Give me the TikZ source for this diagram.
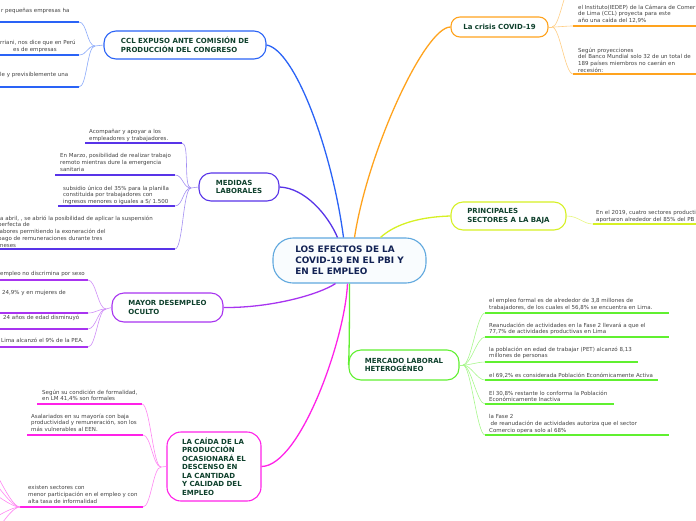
\documentclass[tikz,border=0pt]{standalone}
\usepackage{fontspec}
\setmainfont{DejaVu Sans}
\usepackage{xcolor}
\usetikzlibrary{positioning}

\definecolor{cclblue}{RGB}{42,99,246}
\definecolor{medindigo}{RGB}{88,52,232}
\definecolor{mayviolet}{RGB}{168,52,240}
\definecolor{caimagenta}{RGB}{255,34,232}
\definecolor{criorange}{RGB}{255,163,30}
\definecolor{prilime}{RGB}{214,240,36}
\definecolor{mergreen}{RGB}{96,240,48}
\definecolor{ctrblue}{RGB}{96,168,222}
\definecolor{topictext}{RGB}{14,64,44}
\definecolor{ctrtext}{RGB}{18,34,84}
\definecolor{leaftext}{RGB}{66,66,66}

\tikzset{
  topic/.style={
    shape = rectangle,
    draw,
    fill = white,
    line width = 1.1pt,
    rounded corners = 12pt,
    align = left,
    inner sep = 0pt,
    text = topictext,
    font = \fontsize{7}{8.5}\selectfont\bfseries
  },
}
\tikzset{
  leaf/.style={
    anchor = north west,
    inner sep = 0pt,
    yshift = -1.8pt,
    align = left,
    text = leaftext,
    font = \fontsize{5.5}{6.8}\selectfont,
    execute at begin node = \strut
  },
}
\tikzset{
  branch/.style={line width = 1.3pt},
  twig/.style={line width = 0.6pt},
  uline/.style={line width = 1.5pt}
}

\begin{document}
\begin{tikzpicture}[x=1pt,y=-1pt]
    \useasboundingbox (0,0) rectangle (696,520);
    \clip (0,0) rectangle (696,520);

    \node[topic, draw=ctrblue, fill=ctrblue!4, text=ctrtext, rounded corners=20pt,
          minimum width=153, minimum height=45,
          font=\fontsize{8.9}{11}\selectfont\bfseries] (ctr) at (349.5,260.5)
          {LOS EFECTOS DE LA\\COVID-19 EN EL PBI Y\\EN EL EMPLEO};

    \node[topic, draw=cclblue, minimum width=162, minimum height=28] (ccl) at (185,45)
          {CCL EXPUSO ANTE COMISIÓN DE\\PRODUCCIÓN DEL CONGRESO};
    \node[topic, draw=medindigo, minimum width=80, minimum height=28] (med) at (239,187)
          {MEDIDAS\\LABORALES};
    \node[topic, draw=mayviolet, minimum width=111, minimum height=29] (may) at (167.5,307.5)
          {MAYOR DESEMPLEO\\OCULTO};
    \node[topic, draw=caimagenta, rounded corners=14pt, minimum width=94, minimum height=69] (cai) at (214,466.5)
          {LA CAÍDA DE LA\\PRODUCCIÓN\\OCASIONARÁ EL\\DESCENSO EN\\LA CANTIDAD\\Y CALIDAD DEL\\EMPLEO};
    \node[topic, draw=criorange, rounded corners=9pt, minimum width=97, minimum height=20] (cri) at (499.5,27)
          {La crisis COVID-19};
    \node[topic, draw=prilime, minimum width=115, minimum height=28] (pri) at (508.5,216)
          {PRINCIPALES\\SECTORES A LA BAJA};
    \node[topic, draw=mergreen, minimum width=110, minimum height=30] (mer) at (404,365)
          {MERCADO LABORAL\\HETEROGÉNEO};

    % main branches
    \draw[branch, cclblue] (ccl.east) .. controls (295,50) and (332,150) .. ([xshift=-6]ctr.north);
    \draw[branch, criorange] (cri.west) .. controls (425,27) and (368,150) .. ([xshift=5]ctr.north);
    \draw[branch, medindigo] (med.east) .. controls (305,188) and (328,215) .. ([xshift=-12]ctr.north);
    \draw[branch, prilime] (pri.west) .. controls (415,217) and (393,226) .. ([xshift=31]ctr.north);
    \draw[branch, mayviolet] (may.east) .. controls (270,308) and (318,295) .. ([xshift=-14]ctr.south);
    \draw[branch, caimagenta] (cai.east) .. controls (300,466) and (345,340) .. ([xshift=-2]ctr.south);
    \draw[branch, mergreen] (ctr.south) .. controls (349.5,340) and (349,358) .. (mer.west);

    % CCL
    \coordinate (cclcv) at (95,46);
    \draw[uline, cclblue] (-5,22) -- (79,22) coordinate (cc1e);
    \draw[uline, cclblue] (-5,55) -- (79,55) coordinate (cc2e);
    \draw[uline, cclblue] (-5,87) -- (79,87) coordinate (cc3e);
    \node[leaf] (cc1) at (1,5.6) {r pequeñas empresas ha};
    \node[leaf] (cc2) at (0,37.6) {rriani, nos dice que en Perú};
    \node[leaf] (cc2b) at (13,44.4) {es de empresas};
    \node[leaf] (cc3) at (0,69.6) {le y previsiblemente una};
    \draw[twig, cclblue!55] (ccl.west) -- (cclcv);
    \draw[twig, cclblue!55] (cclcv) .. controls +(-8,0) and +(8,0) .. (cc1e);
    \draw[twig, cclblue!55] (cclcv) .. controls +(-8,0) and +(8,0) .. (cc2e);
    \draw[twig, cclblue!55] (cclcv) .. controls +(-8,0) and +(8,0) .. (cc3e);

    % MEDIDAS
    \coordinate (medcv) at (191,188);
    \draw[uline, medindigo] (85,143) -- (182,143) coordinate (md1e);
    \draw[uline, medindigo] (55,175) -- (175,175) coordinate (md2e);
    \draw[uline, medindigo] (58,206) -- (175,206) coordinate (md3e);
    \draw[uline, medindigo] (-5,249) -- (175,249) coordinate (md4e);
    \node[leaf] (md1) at (89,127.6) {Acompañar y apoyar a los\\empleadores y trabajadores.};
    \node[leaf] (md2) at (60,151.6) {En Marzo, posibilidad de realizar trabajo\\remoto mientras dure la emergencia\\sanitaria};
    \node[leaf] (md3) at (63,183.6) {subsidio único del 35\% para la planilla\\constituida por trabajadores con\\ingresos menores o iguales a S/ 1.500};
    \node[leaf] (md4) at (-2,213.6) {\kern2pt a abril, , se abrió la posibilidad de aplicar la suspensión\\perfecta de\\labores permitiendo la exoneración del\\pago de remuneraciones durante tres\\meses};
    \draw[twig, medindigo!55] (med.west) -- (medcv);
    \draw[twig, medindigo!55] (medcv) .. controls +(-8,0) and +(8,0) .. (md1e);
    \draw[twig, medindigo!55] (medcv) .. controls +(-8,0) and +(8,0) .. (md2e);
    \draw[twig, medindigo!55] (medcv) .. controls +(-8,0) and +(8,0) .. (md3e);
    \draw[twig, medindigo!55] (medcv) .. controls +(-8,0) and +(8,0) .. (md4e);

    % MAYOR DESEMPLEO
    \coordinate (maycv) at (106,309);
    \draw[uline, mayviolet] (-5,280) -- (88,280) coordinate (my1e);
    \draw[uline, mayviolet] (-5,313) -- (88,313) coordinate (my2e);
    \draw[uline, mayviolet] (-5,329) -- (88,329) coordinate (my3e);
    \draw[uline, mayviolet] (-5,347) -- (88,347) coordinate (my4e);
    \node[leaf] (my1) at (0,268.6) {empleo no discrimina por sexo};
    \node[leaf] (my2) at (2,287.6) {24,9\% y en mujeres de};
    \node[leaf] (my3) at (3,312.6) {24 años de edad disminuyó};
    \node[leaf] (my4) at (1,335.6) {Lima alcanzó el 9\% de la PEA.};
    \draw[twig, mayviolet!55] (may.west) -- (maycv);
    \draw[twig, mayviolet!55] (maycv) .. controls +(-8,0) and +(8,0) .. (my1e);
    \draw[twig, mayviolet!55] (maycv) .. controls +(-8,0) and +(8,0) .. (my2e);
    \draw[twig, mayviolet!55] (maycv) .. controls +(-8,0) and +(8,0) .. (my3e);
    \draw[twig, mayviolet!55] (maycv) .. controls +(-8,0) and +(8,0) .. (my4e);

    % LA CAIDA
    \coordinate (caicv) at (161,467);
    \draw[uline, caimagenta] (37,404) -- (142,404) coordinate (cd1e);
    \draw[uline, caimagenta] (27,435) -- (143,435) coordinate (cd2e);
    \draw[uline, caimagenta] (20,507) coordinate (cd3s) -- (143,507) coordinate (cd3e);
    \node[leaf] (cd1) at (42,387.6) {Según su condición de formalidad,\\en LM 41,4\% son formales};
    \node[leaf] (cd2) at (31,411.6) {Asalariados en su mayoría con baja\\productividad y remuneración, son los\\más vulnerables al EEN.};
    \node[leaf] (cd3) at (28,483.6) {existen sectores con\\menor participación en el empleo y con\\alta tasa de informalidad};
    \draw[twig, caimagenta!55] (cai.west) -- (caicv);
    \draw[twig, caimagenta!55] (caicv) .. controls +(-8,0) and +(8,0) .. (cd1e);
    \draw[twig, caimagenta!55] (caicv) .. controls +(-8,0) and +(8,0) .. (cd2e);
    \draw[twig, caimagenta!55] (caicv) .. controls +(-8,0) and +(8,0) .. (cd3e);
    \coordinate (cx1) at (-25,445);
    \coordinate (cx2) at (-25,465);
    \coordinate (cx3) at (-25,485);
    \coordinate (cx4) at (-25,525);
    \coordinate (cx5) at (-20,545);
    \draw[twig, caimagenta!55] (cd3s) .. controls +(-12,0) and +(12,0) .. (cx1);
    \draw[twig, caimagenta!55] (cd3s) .. controls +(-12,0) and +(12,0) .. (cx2);
    \draw[twig, caimagenta!55] (cd3s) .. controls +(-12,0) and +(12,0) .. (cx3);
    \draw[twig, caimagenta!55] (cd3s) .. controls +(-12,0) and +(12,0) .. (cx4);
    \draw[twig, caimagenta!55] (cd3s) .. controls +(-12,0) and +(12,0) .. (cx5);

    % LA CRISIS
    \coordinate (cricv) at (552,27);
    \coordinate (cr0e) at (572,-14);
    \draw[uline, criorange] (573,26) coordinate (cr1s) -- (700,26);
    \draw[uline, criorange] (573,74) coordinate (cr2s) -- (700,74);
    \node[leaf] (cr1) at (578,2.6) {el Instituto(IEDEP) de la Cámara de Comer\\de Lima (CCL) proyecta para este\\año una caída del 12,9\%};
    \node[leaf] (cr2) at (578,45.6) {Según proyecciones\\del Banco Mundial solo 32 de un total de\\189 países miembros no caerán en\\recesión:};
    \draw[twig, criorange!55] (cri.east) -- (cricv);
    \draw[twig, criorange!55] (cricv) .. controls +(8,0) and +(-8,0) .. (cr0e);
    \draw[twig, criorange!55] (cricv) .. controls +(8,0) and +(-8,0) .. (cr1s);
    \draw[twig, criorange!55] (cricv) .. controls +(8,0) and +(-8,0) .. (cr2s);

    % PRINCIPALES SECTORES
    \draw[uline, prilime] (593,224) coordinate (pr1s) -- (700,224);
    \node[leaf] (pr1) at (596,208.6) {En el 2019, cuatro sectores producti\\aportaron alrededor del 85\% del PB};
    \draw[twig, prilime!60] (pri.east) .. controls +(12,0) and +(-10,0) .. (pr1s);

    % MERCADO LABORAL
    \coordinate (mercv) at (463,365);
    \draw[uline, mergreen] (485,313) coordinate (mk1s) -- (669,313);
    \draw[uline, mergreen] (485,337) coordinate (mk2s) -- (669,337);
    \draw[uline, mergreen] (485,362) coordinate (mk3s) -- (638,362);
    \draw[uline, mergreen] (485,380) coordinate (mk4s) -- (658,380);
    \draw[uline, mergreen] (485,404) coordinate (mk5s) -- (614,404);
    \draw[uline, mergreen] (485,435) coordinate (mk6s) -- (669,435);
    \node[leaf] (mk1) at (489,296.6) {el empleo formal es de alrededor de 3,8 millones de\\trabajadores, de los cuales el 56,8\% se encuentra en Lima.};
    \node[leaf] (mk2) at (489,320.6) {Reanudación de actividades en la Fase 2 llevará a que el\\77,7\% de actividades productivas en Lima};
    \node[leaf] (mk3) at (489,344.6) {la población en edad de trabajar (PET) alcanzó 8,13\\millones de personas};
    \node[leaf] (mk4) at (489,370.6) {el 69,2\% es considerada Población Económicamente Activa};
    \node[leaf] (mk5) at (489,388.6) {El 30,8\% restante lo conforma la Población\\Económicamente Inactiva};
    \node[leaf] (mk6) at (489,412.6) {la Fase 2\\\kern1.5pt de reanudación de actividades autoriza que el sector\\Comercio opera solo al 68\%};
    \draw[twig, mergreen!55] (mer.east) -- (mercv);
    \draw[twig, mergreen!55] (mercv) .. controls +(8,0) and +(-8,0) .. (mk1s);
    \draw[twig, mergreen!55] (mercv) .. controls +(8,0) and +(-8,0) .. (mk2s);
    \draw[twig, mergreen!55] (mercv) .. controls +(8,0) and +(-8,0) .. (mk3s);
    \draw[twig, mergreen!55] (mercv) .. controls +(8,0) and +(-8,0) .. (mk4s);
    \draw[twig, mergreen!55] (mercv) .. controls +(8,0) and +(-8,0) .. (mk5s);
    \draw[twig, mergreen!55] (mercv) .. controls +(8,0) and +(-8,0) .. (mk6s);
\end{tikzpicture}
\end{document}
